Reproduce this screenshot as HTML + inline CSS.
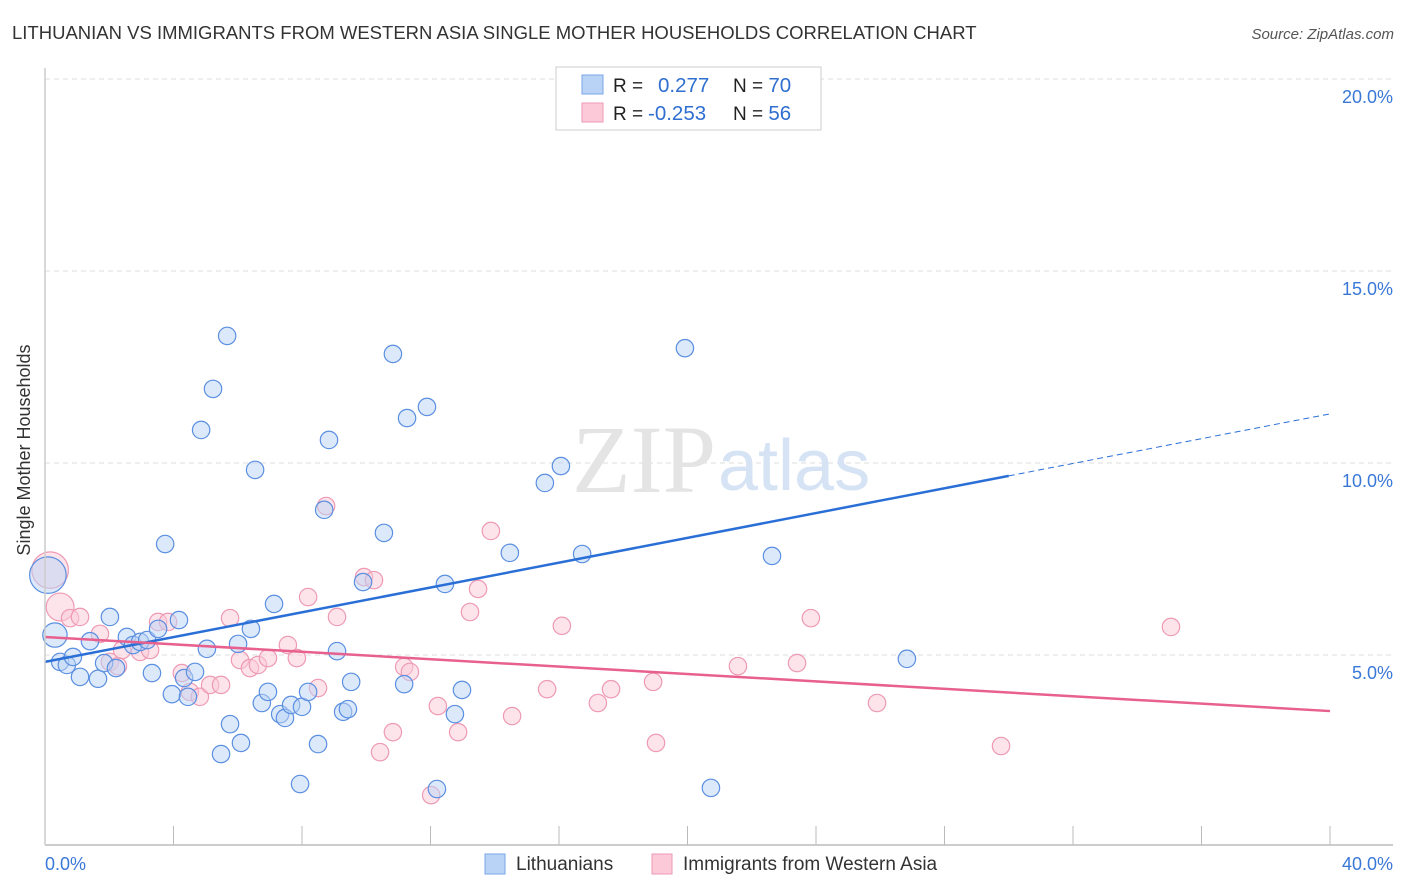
<!DOCTYPE html>
<html><head><meta charset="utf-8"><style>
body{margin:0;background:#fff;font-family:"Liberation Sans",sans-serif;}
svg{display:block}
</style></head><body>
<svg id="chart" width="1406" height="892" xmlns="http://www.w3.org/2000/svg">
<text x="12" y="39" font-size="18.5" fill="#333">LITHUANIAN VS IMMIGRANTS FROM WESTERN ASIA SINGLE MOTHER HOUSEHOLDS CORRELATION CHART</text>
<text x="1394" y="39" font-size="15" fill="#555" font-style="italic" text-anchor="end">Source: ZipAtlas.com</text>
<g id="grid"></g>
<text x="716" y="492" font-size="96" fill="#e4e4e4" font-family="Liberation Serif,serif" text-anchor="end">ZIP</text>
<text x="718" y="490" font-size="72" fill="#d6e3f4">atlas</text>
<g id="pts"></g>
<g id="lines"></g>
<g id="axes"></g>
<text x="36" y="456" font-size="18" fill="#333" text-anchor="middle" transform="rotate(-90 30 456)">Single Mother Households</text>
<g>
<rect x="556" y="67" width="265" height="63" fill="#fff" stroke="#ccc"/>
<rect x="582" y="75" width="21" height="19" fill="#b9d3f6" stroke="#7aa6e6"/>
<rect x="582" y="103" width="21" height="19" fill="#fcc9d8" stroke="#ee9ab4"/>
<text x="613" y="92" font-size="19" fill="#222">R = <tspan fill="#2f6fd0" x="658" font-size="20.5">0.277</tspan><tspan x="733" fill="#222">N = </tspan><tspan fill="#2f6fd0" font-size="20.5">70</tspan></text>
<text x="613" y="120" font-size="19" fill="#222">R = <tspan fill="#2f6fd0" x="648" font-size="20.5">-0.253</tspan><tspan x="733" fill="#222">N = </tspan><tspan fill="#2f6fd0" font-size="20.5">56</tspan></text>
</g>
<g>
<rect x="485" y="854" width="20" height="20" fill="#b9d3f6" stroke="#7aa6e6"/>
<text x="516" y="870" font-size="19" fill="#333">Lithuanians</text>
<rect x="652" y="854" width="20" height="20" fill="#fcc9d8" stroke="#ee9ab4"/>
<text x="683" y="870" font-size="19" fill="#333">Immigrants from Western Asia</text>
</g>
</svg>
<script>
const blueX=[0.09,0.31,0.47,0.68,0.87,1.09,1.40,1.65,1.84,2.02,2.21,2.55,2.74,2.96,3.18,3.33,3.52,3.74,3.95,4.17,4.33,4.45,4.67,4.86,5.04,5.23,5.48,5.67,5.76,6.01,6.10,6.41,6.54,6.75,6.94,7.13,7.32,7.47,7.66,8.00,7.94,8.19,8.50,8.69,8.84,9.09,9.28,9.43,9.53,9.90,10.55,10.83,11.18,11.27,11.89,12.20,12.45,12.76,12.98,14.47,15.56,16.06,16.72,17.53,19.92,20.73,22.63,26.83];
const blueY=[7.08,5.52,4.82,4.74,4.95,4.43,5.36,4.38,4.79,5.99,4.66,5.47,5.26,5.34,5.39,4.53,5.68,7.89,3.98,5.91,4.40,3.91,4.56,10.86,5.16,11.93,2.42,13.31,3.20,5.29,2.71,5.68,9.82,3.75,4.04,6.33,3.46,3.36,3.70,3.65,1.64,4.04,2.68,8.78,10.60,5.10,3.52,3.59,4.30,6.90,8.18,12.84,4.24,11.17,11.46,1.51,6.85,3.46,4.09,7.66,9.48,9.92,7.63,19.97,12.99,1.54,7.58,4.90];
const pinkX=[0.16,0.47,0.78,1.09,1.71,2.02,2.27,2.40,2.96,3.27,3.52,3.83,4.26,4.51,4.82,5.14,5.48,5.76,6.07,6.38,6.63,6.94,7.56,7.84,8.19,8.50,8.75,9.09,9.93,10.24,10.43,10.83,11.18,11.36,12.02,12.23,12.86,13.23,13.48,13.88,14.54,15.63,16.09,17.21,17.62,18.93,19.02,21.57,23.41,23.84,25.90,29.76,35.05];
const pinkY=[7.21,6.25,5.96,5.99,5.55,4.82,4.71,5.13,5.08,5.13,5.86,5.86,4.53,4.04,3.91,4.22,4.22,5.96,4.87,4.66,4.74,4.92,5.26,4.92,6.51,4.14,8.88,5.99,7.03,6.95,2.47,2.99,4.69,4.56,1.35,3.67,2.99,6.12,6.72,8.23,3.41,4.11,5.76,3.75,4.11,4.30,2.71,4.71,4.79,5.96,3.75,2.63,5.73];
const blueSize=[2.1,1.4];
const pinkSize=[2.1,1.6];
const blueFit=[4.82,11.28];
const pinkFit=[5.47,3.54];
const yTicks=[5,10,15,20];
const xTicks=[0,40];
const NS='http://www.w3.org/2000/svg';
const X0=45,X1=1330,Y0=847,PX5=192;
const sx=v=>X0+v*(X1-X0)/40;
const sy=v=>Y0-v*PX5/5;
function mk(tag,attrs,parent){const e=document.createElementNS(NS,tag);for(const k in attrs)e.setAttribute(k,attrs[k]);parent.appendChild(e);return e;}
const grid=document.getElementById('grid');
yTicks.forEach(t=>{
 const l=mk('line',{x1:45,x2:1393,y1:sy(t),y2:sy(t),stroke:'#ddd','stroke-dasharray':'5,4'},grid);
 
 
 const tx=mk('text',{x:1393,y:sy(t)+24,'font-size':18,fill:'#3a78d8','text-anchor':'end'},grid);
 tx.textContent=t.toFixed(1)+'%';
 
 
});
const axes=document.getElementById('axes');
const al=mk('line',{x1:45,x2:1393,y1:845,y2:845,stroke:'#bbb','stroke-width':1.5},axes);


const yl=mk('line',{x1:45,x2:45,y1:68,y2:845,stroke:'#ccc','stroke-width':1.5},axes);


for(let k=1;k<=10;k++){
 const t=mk('line',{x1:sx(k*4),x2:sx(k*4),y1:826,y2:845,stroke:'#bbb'},axes);
 
 
}
xTicks.forEach((t,i)=>{
 const tx=mk('text',{x:i?1393:45,y:870,'font-size':18,fill:'#3a78d8','text-anchor':i?'end':'start'},axes);
 tx.textContent=t.toFixed(1)+'%';
 
 
});
const pts=document.getElementById('pts');
function dots(xs,ys,fill,stroke,sizes,name){
 xs.forEach((x,i)=>{
  const r=i<sizes.length?8.7*sizes[i]:8.7;
  const c=mk('circle',{cx:sx(x),cy:sy(ys[i]),r:r,fill:fill,'fill-opacity':0.5,stroke:stroke,'stroke-width':1.2},pts);
  
  
 });
}
dots(pinkX,pinkY,'#fcc9d8','#ee9ab4',pinkSize,'point-immigrants');
dots(blueX,blueY,'#b9d3f6','#5b8fe0',blueSize,'point-lithuanians');
const lines=document.getElementById('lines');
const bAt=x=>blueFit[0]+(blueFit[1]-blueFit[0])*x/40;
const pAt=x=>pinkFit[0]+(pinkFit[1]-pinkFit[0])*x/40;
const b1=mk('line',{x1:sx(0),y1:sy(bAt(0)),x2:sx(30),y2:sy(bAt(30)),stroke:'#2a6fd6','stroke-width':2.5},lines);


const b2=mk('line',{x1:sx(30),y1:sy(bAt(30)),x2:sx(40),y2:sy(bAt(40)),stroke:'#2a6fd6','stroke-width':1,'stroke-dasharray':'6,4'},lines);


const p1=mk('line',{x1:sx(0),y1:sy(pAt(0)),x2:sx(40),y2:sy(pAt(40)),stroke:'#e8608e','stroke-width':2.5},lines);


</script>
</body></html>
